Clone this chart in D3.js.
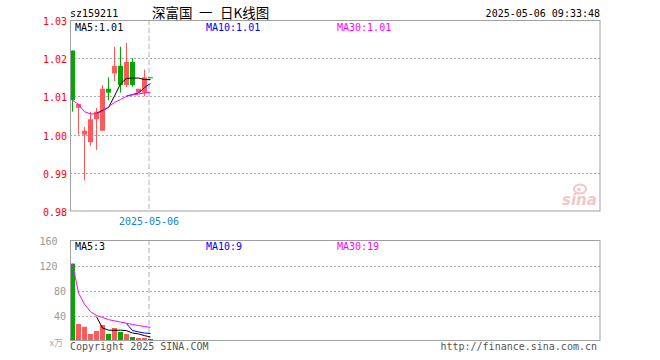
<!DOCTYPE html>
<html><head><meta charset="utf-8">
<script src="https://cdn.jsdelivr.net/npm/d3@7/dist/d3.min.js"></script>
<style>body{margin:0;background:#fff}svg{display:block}</style>
</head><body>
<script>
// ---- data ----
const symbol = "sz159211";
const titleParts = ["深富国", "一", "日K线图"];
const stamp = "2025-05-06 09:33:48";
const dateLabel = "2025-05-06";
const opens  = [1.022,1.007,1.000,0.998,1.004,1.001,1.012,1.016,1.018,1.013,1.019,1.011,1.011,1.015];
const highs  = [1.022,1.008,1.002,1.006,1.007,1.013,1.015,1.023,1.023,1.024,1.020,1.012,1.017,1.015];
const lows   = [1.006,1.000,0.988,0.997,0.996,1.001,1.009,1.014,1.011,1.0125,1.0125,1.011,1.010,1.015];
const closes = [1.009,1.008,1.001,1.004,1.006,1.012,1.011,1.018,1.013,1.019,1.013,1.012,1.015,1.015];
const ups    = [false,true,true,true,true,true,false,true,false,true,false,true,true,false];
const ma5  = [null,null,null,null,1.0056,1.0063,1.0071,1.0101,1.0133,1.0147,1.0148,1.0148,1.0144,1.0144];
const ma10 = [null,null,null,null,null,null,null,null,null,1.0101,1.0105,1.0109,1.0123,1.0134];
const ma30 = [1.0090,1.0079,1.0060,1.0054,1.0055,1.0061,1.0073,1.0084,1.0092,1.0100,1.0104,1.0106,1.0109,1.0111];
const volumes = [123,26.4,22,10.4,15.2,24.8,10.4,20,13.6,10.4,5.6,4,4,2.4];
const vma5  = [null,null,null,null,38,20,16.6,16.2,16.6,15.8,12,10.6,7.8,5.6];
const vma10 = [null,null,null,null,null,null,null,null,null,27,16,13.8,12,11.2];
const vma30 = [123,76,58,46,40,37,33.4,31.5,29.5,27.6,25.6,24,22.4,21];
const priceTicks = [1.03,1.02,1.01,1.00,0.99,0.98];
const volTicks = [160,120,80,40];
const priceMaLabels = ["MA5:1.01","MA10:1.01","MA30:1.01"];
const volMaLabels = ["MA5:3","MA10:9","MA30:19"];
const slots = 88;

// ---- drawing ----
const W=660,H=360;
const RED="#ff5a5a", GREEN="#00a800", GRID="#aaaaaa", FRAME="#a0a0a0";
const maColors=["#000000","#0000ff","#ff00ff"];
const mono='"DejaVu Sans Mono", monospace';
const svg=d3.select("body").append("svg").attr("width",W).attr("height",H);

const x=d3.scaleBand().domain(d3.range(slots)).range([69.5,69.5+6*slots]).padding(0);
const cx=i=>x(i)+3;
const yP=d3.scaleLinear().domain([0.98,1.03]).range([211,20]);
const yV=d3.scaleLinear().domain([0,160]).range([340.5,240.5]);

// header
svg.append("text").attr("x",70).attr("y",17).attr("font-family",mono).attr("font-size",10).attr("fill","#000").text(symbol);
const titleX=[152,199,220];
titleParts.forEach((t,k)=>svg.append("text").attr("x",titleX[k]).attr("y",18).attr("font-family",'"Noto Sans CJK SC", sans-serif').attr("font-size",13.5).attr("fill","#000").text(t));
svg.append("text").attr("x",600).attr("y",17).attr("text-anchor","end").attr("font-family",mono).attr("font-size",10).attr("fill","#000").text(stamp);

// watermark
const wm=svg.append("g").attr("opacity",0.55);
wm.append("text").attr("x",562).attr("y",205).attr("font-family","DejaVu Sans, sans-serif").attr("font-weight","bold").attr("font-style","italic").attr("font-size",15).attr("fill","#e79a9a").text("sina");
wm.append("ellipse").attr("cx",580).attr("cy",189).attr("rx",6).attr("ry",4.5).attr("fill","none").attr("stroke","#e79a9a").attr("stroke-width",2);
wm.append("circle").attr("cx",579).attr("cy",189.5).attr("r",1.8).attr("fill","#e79a9a");

// price grid
svg.append("g").selectAll("line").data(priceTicks.slice(1,-1)).join("line")
  .attr("x1",70).attr("x2",600).attr("y1",d=>Math.round(yP(d))+0.5).attr("y2",d=>Math.round(yP(d))+0.5)
  .attr("stroke",GRID).attr("stroke-dasharray","2,2");
svg.append("g").selectAll("line").data(volTicks.slice(1)).join("line")
  .attr("x1",70).attr("x2",600).attr("y1",d=>Math.round(yV(d))+0.5).attr("y2",d=>Math.round(yV(d))+0.5)
  .attr("stroke",GRID).attr("stroke-dasharray","2,2");

// dashed date line
const dX=x(13)+1.5;
[[20,211],[240,340]].forEach(([a,b])=>svg.append("line").attr("x1",dX).attr("x2",dX).attr("y1",a).attr("y2",b).attr("stroke","#b0b0b0").attr("stroke-dasharray","5,3"));

// axis labels
svg.append("g").selectAll("text").data(priceTicks).join("text")
  .attr("x",67).attr("y",d=>yP(d)+5).attr("text-anchor","end").attr("font-family",mono).attr("font-size",10).attr("fill","#ff0000")
  .text(d=>d3.format(".2f")(d));
svg.append("g").selectAll("text").data(volTicks).join("text")
  .attr("x",d=>String(d).length>2?57.5:66).attr("y",d=>yV(d)+4.5).attr("text-anchor","end").attr("font-family",mono).attr("font-size",10).attr("fill","#999")
  .text(d=>String(d));
svg.append("text").attr("x",63).attr("y",346).attr("text-anchor","end").attr("font-family",'"Noto Sans CJK SC", sans-serif').attr("font-size",9).attr("fill","#aaa").text("x万");

// date label
svg.append("text").attr("x",dX).attr("y",225).attr("text-anchor","middle").attr("font-family",mono).attr("font-size",10).attr("fill","#1a80d6").text(dateLabel);

// candles
const idx=d3.range(opens.length);
svg.append("g").selectAll("line").data(idx).join("line")
  .attr("x1",i=>cx(i)).attr("x2",i=>cx(i)).attr("y1",i=>yP(highs[i])).attr("y2",i=>yP(lows[i]))
  .attr("stroke",i=>ups[i]?RED:GREEN).attr("stroke-width",1);
svg.append("g").selectAll("rect").data(idx).join("rect")
  .attr("x",i=>x(i)+0.5).attr("width",5)
  .attr("y",i=>yP(Math.max(opens[i],closes[i])))
  .attr("height",i=>Math.max(1,Math.abs(yP(opens[i])-yP(closes[i]))))
  .attr("fill",i=>ups[i]?RED:GREEN);

// price MA lines
[ma5,ma10,ma30].forEach((arr,k)=>{
  svg.append("path").datum(idx.filter(i=>arr[i]!=null))
    .attr("d",d3.line().x(i=>cx(i)).y(i=>yP(arr[i])))
    .attr("fill","none").attr("stroke",maColors[k]).attr("stroke-width",1);
});

// volume bars
svg.append("g").selectAll("rect").data(idx).join("rect")
  .attr("x",i=>x(i)+0.5).attr("width",5)
  .attr("y",i=>yV(volumes[i])).attr("height",i=>yV(0)-yV(volumes[i]))
  .attr("fill",i=>ups[i]?RED:GREEN);
[vma5,vma10,vma30].forEach((arr,k)=>{
  svg.append("path").datum(idx.filter(i=>arr[i]!=null))
    .attr("d",d3.line().x(i=>cx(i)).y(i=>yV(arr[i])))
    .attr("fill","none").attr("stroke",maColors[k]).attr("stroke-width",1);
});

// frames
svg.append("rect").attr("x",70.5).attr("y",20.5).attr("width",529.5).attr("height",190.5).attr("fill","none").attr("stroke",FRAME);
svg.append("rect").attr("x",70.5).attr("y",240.5).attr("width",529.5).attr("height",100).attr("fill","none").attr("stroke",FRAME);

// MA labels
const maX=[75,206,337];
priceMaLabels.forEach((t,k)=>svg.append("text").attr("x",maX[k]).attr("y",31).attr("font-family",mono).attr("font-size",10).attr("fill",maColors[k]).text(t));
volMaLabels.forEach((t,k)=>svg.append("text").attr("x",maX[k]).attr("y",250).attr("font-family",mono).attr("font-size",10).attr("fill",maColors[k]).text(t));

// footer
svg.append("text").attr("x",70).attr("y",350).attr("font-family",mono).attr("font-size",10).attr("fill","#555").text("Copyright 2025 SINA.COM");
svg.append("text").attr("x",597).attr("y",350).attr("text-anchor","end").attr("font-family",mono).attr("font-size",10).attr("fill","#555").text("http://finance.sina.com.cn");
</script>
</body></html>
